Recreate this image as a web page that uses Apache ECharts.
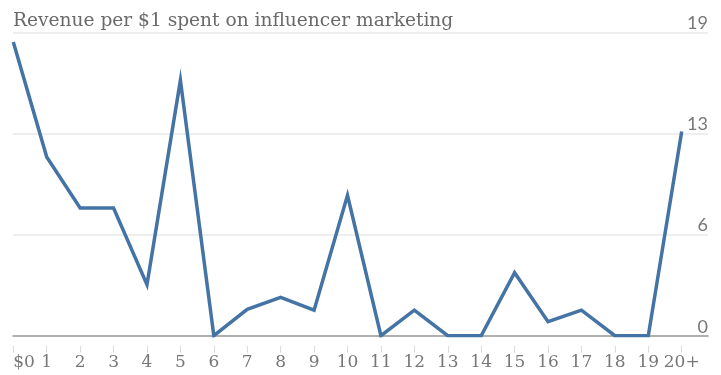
<!DOCTYPE html>
<html>
<head>
<meta charset="utf-8">
<script src="https://cdn.jsdelivr.net/npm/echarts@6/dist/echarts.min.js"></script>
<style>html,body{margin:0;padding:0;background:#fff;}#c{width:721px;height:375px;}</style>
</head>
<body>
<div id="c"></div>
<script>
const titleText = 'Revenue per $1 spent on influencer marketing';
const categories = ['$0','1','2','3','4','5','6','7','8','9','10','11','12','13','14','15','16','17','18','19','20+'];
const revenue = [18.4, 11.2, 8.0, 8.0, 3.2, 16.0, 0, 1.65, 2.4, 1.6, 8.8, 0, 1.6, 0, 0, 3.95, 0.88, 1.6, 0, 0, 12.8];
const yMin = 0, yMax = 19, ySteps = 3;

const chart = echarts.init(document.getElementById('c'), null, {renderer: 'canvas'});
chart.setOption({
  animation: false,
  backgroundColor: '#ffffff',
  title: {
    text: titleText, left: 8, top: 7,
    textStyle: {fontFamily: 'DejaVu Serif', fontSize: 18.6, fontWeight: 'normal', color: '#6a6a6a'}
  },
  grid: [
    {left: 13.3, right: 39.3, top: 32.5, bottom: 39.3},
    {left: 13, right: 13, top: 32.5, bottom: 39.3}
  ],
  xAxis: [
    {gridIndex: 0, type: 'category', position: 'bottom', data: categories, boundaryGap: false,
     axisLine: {show: false}, axisTick: {show: false}, splitLine: {show: false},
     axisLabel: {color: '#777', fontFamily: 'DejaVu Serif', fontSize: 17, margin: 18, interval: 0, alignMinLabel: 'left'}},
    {gridIndex: 0, type: 'category', position: 'bottom', data: categories, boundaryGap: false, offset: 10,
     axisLine: {show: false}, axisLabel: {show: false}, splitLine: {show: false},
     axisTick: {show: true, length: 7, interval: 0, lineStyle: {color: '#dcdcdc', width: 1}}},
    {gridIndex: 1, type: 'value', position: 'bottom', min: 0, max: 1,
     axisLine: {show: true, lineStyle: {color: '#9a9a9a', width: 1.5}},
     axisTick: {show: false}, axisLabel: {show: false}, splitLine: {show: false}}
  ],
  yAxis: [
    {gridIndex: 1, type: 'value', position: 'right', min: yMin, max: yMax, interval: (yMax - yMin) / ySteps,
     axisLine: {show: false}, axisTick: {show: false},
     splitLine: {show: true, lineStyle: {color: '#e8e8e8', width: 1.5}},
     axisLabel: {inside: true, margin: 0, verticalAlign: 'bottom', color: '#777', fontFamily: 'Lato', fontSize: 18,
       formatter: v => String(Math.round(v))}},
    {gridIndex: 0, type: 'value', min: yMin, max: yMax, show: false}
  ],
  series: [{
    type: 'line', xAxisIndex: 0, yAxisIndex: 1, data: revenue,
    symbol: 'none', lineStyle: {color: '#4473a5', width: 3.5, join: 'miter'}
  }]
});
</script>
</body>
</html>
